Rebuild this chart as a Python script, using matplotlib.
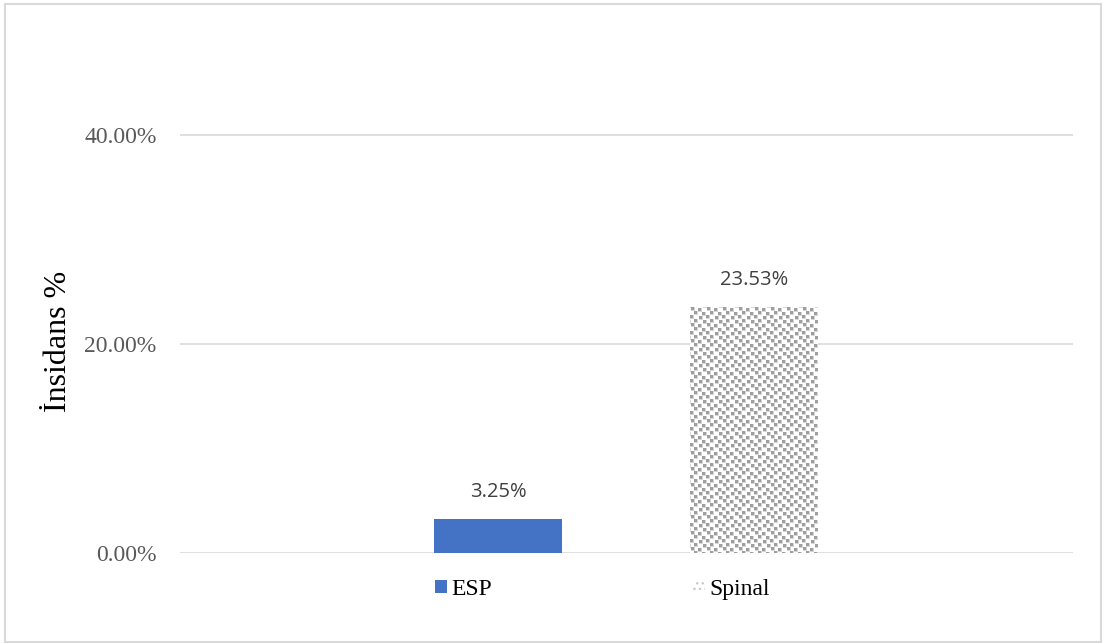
import matplotlib
matplotlib.use("Agg")
import matplotlib.pyplot as plt
import numpy as np
from matplotlib.patches import Rectangle, Patch

# Data
series = ["ESP", "Spinal"]
values = [0.0325, 0.2353]
yticks = [0.0, 0.2, 0.4]
ylabel = "İnsidans %"

W, H = 1103, 643
fig = plt.figure(figsize=(W / 100, H / 100), dpi=100)
fig.patch.set_facecolor("white")

ax = fig.add_axes([180 / W, (H - 553) / H, (1073 - 180) / W, (553 - 30.5) / H])
ax.set_xlim(0, 1)
ax.set_ylim(0, 0.5)

positions = [0.356, 0.643]
width = 0.1433

b1 = ax.bar(positions[0], values[0], width=width, color="#4472C4", linewidth=0, zorder=3)
b2 = ax.bar(positions[1], values[1], width=width, facecolor="white", linewidth=0, zorder=3)
bars = [b1, b2]

# confetti-like texture for the Spinal bar (pure styling)
T = 16
tile = np.ones((T, T))
squares = [(0, 1), (4, 4), (1, 8), (5, 12), (8, 0), (12, 4), (9, 9), (13, 13)]
for r, c in squares:
    for dr in range(4):
        for dc in range(4):
            rr, cc = (r + dr) % T, (c + dc) % T
            core = dr < 3 and dc < 3
            tile[rr, cc] = 0.62 if core else 0.84
rect = b2[0]
ext = rect.get_window_extent(fig.canvas.get_renderer())
nw, nh = int(round(ext.width)), int(round(ext.height))
img = np.tile(tile, (nh // T + 1, nw // T + 1))[:nh, :nw]
rgb = np.dstack([img, img, img])
im = ax.imshow(rgb, extent=(rect.get_x(), rect.get_x() + rect.get_width(), 0, values[1]),
               aspect="auto", interpolation="nearest", zorder=3.5, origin="upper")
im.set_clip_path(rect)
ax.set_xlim(0, 1)
ax.set_ylim(0, 0.5)

for b, v in zip(bars, values):
    r = b[0]
    ax.annotate(f"{v*100:.2f}%", (r.get_x() + r.get_width() / 2, v),
                xytext=(0, 17), textcoords="offset pixels", ha="center", va="bottom",
                fontsize=14.5, color="#404040", family="Open Sans")

ax.set_yticks(yticks)
ax.set_yticklabels([f"{t*100:.2f}%" for t in yticks], family="Liberation Serif",
                   fontsize=17, color="#595959")
ax.tick_params(axis="y", length=0, pad=17)
ax.set_xticks([])
for s in ax.spines.values():
    s.set_visible(False)
ax.grid(axis="y", color="#d9d9d9", linewidth=1.2, zorder=0)
ax.set_axisbelow(True)

fig.text(58 / W, 1 - 341 / H, ylabel, rotation=90, ha="center", va="center",
         family="Liberation Serif", fontsize=23, color="black")

handles = [Patch(facecolor="#4472C4", linewidth=0),
           Patch(facecolor="white", edgecolor="#c8c8c8", hatch="...", linewidth=0)]
leg = fig.legend(handles=handles, labels=series, loc="center",
                 bbox_to_anchor=(602.5 / W, 1 - 589.5 / H), ncol=2, frameon=False,
                 prop={"family": "Liberation Serif", "size": 17},
                 handlelength=0.5, handleheight=0.5, handletextpad=0.2,
                 columnspacing=8.5, borderpad=0)
for t in leg.get_texts():
    t.set_color("black")

fig.patches.append(Rectangle((5 / W, 1 / H), (1101 - 5) / W, (640 - 2) / H,
                             transform=fig.transFigure, fill=False,
                             edgecolor="#d9d9d9", linewidth=1.5))

fig.savefig("out.png", dpi=100)
